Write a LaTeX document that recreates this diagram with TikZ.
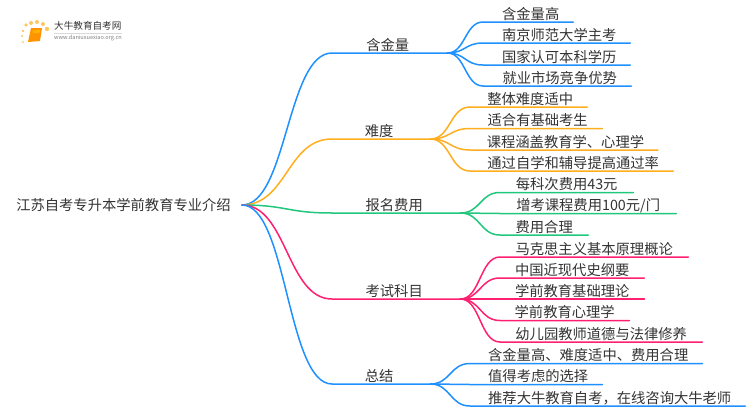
\documentclass[tikz,border=0pt]{standalone}
\usepackage{fontspec}
\setmainfont{Noto Sans CJK SC}
\definecolor{skyline}{HTML}{1E90FF}
\definecolor{amberline}{HTML}{FFAE1F}
\definecolor{greenline}{HTML}{20C77C}
\definecolor{pinkline}{HTML}{FF1F70}
\definecolor{labelgray}{HTML}{333333}
\tikzset{
  rootnode/.style = {anchor = east, inner xsep = 11pt, inner ysep = 0pt, text = labelgray,
    font = \fontsize{14.3}{16}\selectfont},
  stemnode/.style = {anchor = south west, inner xsep = 0pt, inner ysep = 0pt, text = labelgray,
    text height = 11pt, text depth = 2.4pt, font = \fontsize{14.3}{16}\selectfont},
  link/.style = {line width = 1.5pt, line cap = round},
  sun/.style = {fill = amberline!70, draw = none}
}
\begin{document}
\begin{tikzpicture}
        [x = 1pt, y = -1pt]

        \path[use as bounding box] (0,0) rectangle (750,410);

        % logo
        \foreach \x/\y/\r in {26/25/1.8, 31/23/2, 37/22/2, 43/24/2, 47/29/2.2, 23/31/1.4, 22/36/1.2, 23/42/1}
          \fill[sun] (\x,\y) circle (\r pt);
        \fill[orange!85!yellow] (31,28) -- (42,28) -- (40,41) -- (28,42) -- cycle;
        \fill[orange!60!yellow] (33,30) -- (40,30) -- (39.5,33) -- (32.5,33) -- cycle;
        \node[anchor = west, inner sep = 0pt, text = labelgray, font = \fontsize{9.6}{11}\selectfont] (logotitle) at (54,26) {大牛教育自考网};
        \node[anchor = west, inner sep = 0pt, text = gray, font = \fontsize{5.6}{7}\selectfont] (logourl) at (54,38) {www.daniuxuexiao.org.cn};
        \draw[black!15, line width = .6pt] (logotitle.south west |- 0,33) -- (122,33);

        \node[rootnode] (root) at (242,205) {江苏自考专升本学前教育专业介绍};

        \foreach \name/\col/\y/\w/\txt in {worth/skyline/53/115/含金量, hard/amberline/139/98/难度,
          fees/greenline/213/128/报名费用, exams/pinkline/299/128/考试科目, recap/skyline/384/98/总结}
        {
          \node[stemnode, minimum width = \w pt] (\name) at (332,\y) {\hspace{-4pt}\txt};
          \draw[link, \col] (root.east) .. controls +(45,0) and +(-45,0) .. (\name.south west) -- (\name.south east);
        }

        \foreach \y/\w/\txt [count = \i] in {22/90/含金量高, 43/147/南京师范大学主考, 65/147/国家认可本科学历, 86/148/就业市场竞争优势}
        {
          \node[stemnode, minimum width = \w pt] (worth\i) at (483,\y) {\hspace{5pt}\txt};
          \draw[link, skyline] (worth.south east) .. controls +(18,0) and +(-18,0) .. (worth\i.south west) -- (worth\i.south east);
        }

        \foreach \y/\w/\txt [count = \i] in {107/117/整体难度适中, 128.5/132/适合有基础考生, 150/187.5/课程涵盖教育学、心理学, 171/203/通过自学和辅导提高通过率}
        {
          \node[stemnode, minimum width = \w pt] (hard\i) at (470,\y) {\hspace{3pt}\txt};
          \draw[link, amberline] (hard.south east) .. controls +(20,0) and +(-20,0) .. (hard\i.south west) -- (hard\i.south east);
        }

        \foreach \y/\w/\txt [count = \i] in {192.5/133/每科次费用43元, 213.5/176/{增考课程费用100元/门}, 235/88/费用合理}
        {
          \node[stemnode, minimum width = \w pt] (fees\i) at (500,\y) {\txt};
          \draw[link, greenline] (fees.south east) .. controls +(20,0) and +(-20,0) .. (fees\i.south west) -- (fees\i.south east);
        }

        \foreach \y/\w/\txt [count = \i] in {257/188/马克思主义基本原理概论, 278/144/中国近现代史纲要, 299/144/学前教育基础理论, 320.5/129/学前教育心理学, 342/202/幼儿园教师道德与法律修养}
        {
          \node[stemnode, minimum width = \w pt] (exams\i) at (500,\y) {\txt};
          \draw[link, pinkline] (exams.south east) .. controls +(20,0) and +(-20,0) .. (exams\i.south west) -- (exams\i.south east);
        }

        \foreach \y/\w/\txt [count = \i] in {363.5/232/含金量高、难度适中、费用合理, 384.5/132/值得考虑的选择, 406/275/推荐大牛教育自考，在线咨询大牛老师}
        {
          \node[stemnode, minimum width = \w pt] (recap\i) at (470,\y) {\hspace{4pt}\txt};
          \draw[link, skyline] (recap.south east) .. controls +(20,0) and +(-20,0) .. (recap\i.south west) -- (recap\i.south east);
        }
      \end{tikzpicture}
\end{document}
